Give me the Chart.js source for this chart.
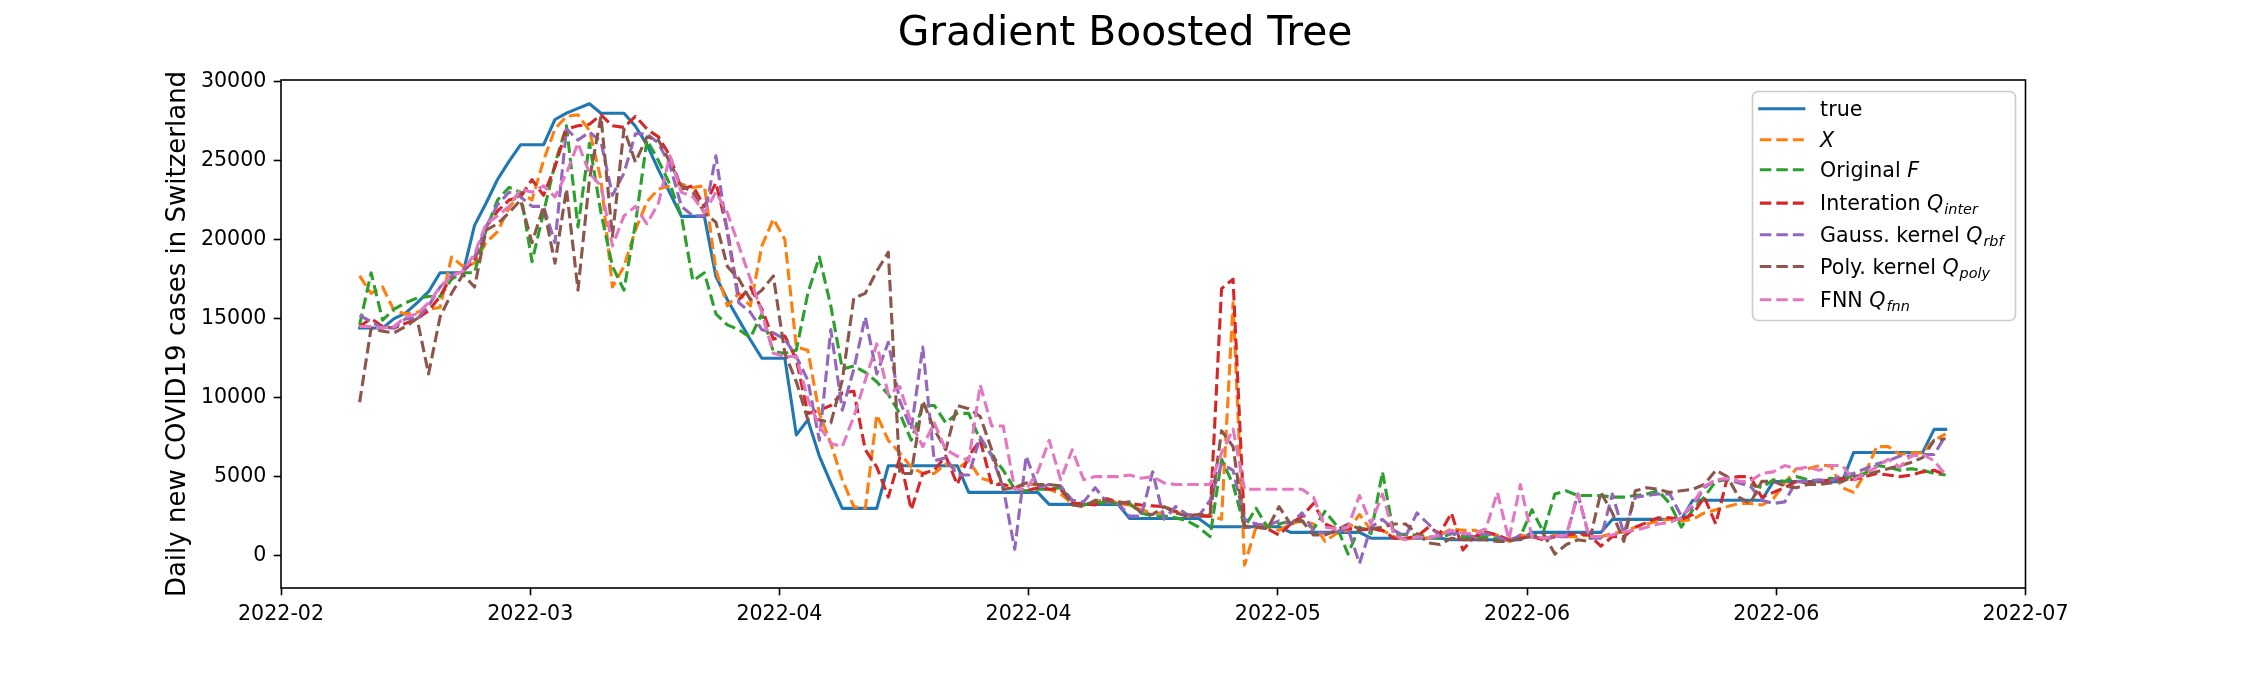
<!DOCTYPE html>
<html>
<head>
<meta charset="utf-8">
<title>Gradient Boosted Tree</title>
<script src="https://cdn.jsdelivr.net/npm/chart.js@4.4.1/dist/chart.umd.min.js"></script>
<style>
  html, body { margin: 0; padding: 0; background: #fff; }
  #wrap { width: 2250px; height: 675px; position: relative; }
</style>
</head>
<body>
<div id="wrap"><canvas id="gbtChart"></canvas></div>
<script>
  // Axis labels and series names
  const tickLabels = ['2022-02', '2022-03', '2022-04', '2022-04', '2022-05', '2022-06', '2022-06', '2022-07'];
  const yTicks = [0, 5000, 10000, 15000, 20000, 25000, 30000];
  const seriesNames = ['true', '$X$', 'Original $F$', 'Interation $Q_{inter}$', 'Gauss. kernel $Q_{rbf}$', 'Poly. kernel $Q_{poly}$', 'FNN $Q_{fnn}$'];
  const seriesColors = ['#1f77b4', '#ff7f0e', '#2ca02c', '#d62728', '#9467bd', '#8c564b', '#e377c2'];

  // Daily values (one per day)
  const trueCases = [
    14400, 14400, 14400, 15000, 15350, 16000, 16700, 17900, 17900, 17900,
    20900, 22300, 23800, 24950, 26000, 26000, 26000, 27600, 28000, 28300,
    28600, 28000, 28000, 28000, 27170, 26010, 24430, 22950, 21470, 21470,
    21470, 17670, 16190, 14920, 13660, 12490, 12490, 12490, 7640, 8590,
    6300, 4600, 2990, 2990, 2990, 2990,
    5690, 5690, 5690, 5690, 5690, 5690, 5690,
    4000, 4000, 4000, 4000, 4000, 4000, 4000,
    3240, 3240, 3240, 3240, 3240, 3240, 3240,
    2350, 2350, 2350, 2350, 2350, 2350, 2350,
    1830, 1830, 1830, 1830, 1830, 1830, 1830,
    1470, 1470, 1470, 1470, 1470, 1470, 1470,
    1100, 1100, 1100, 1100, 1100, 1100, 1100,
    1000, 1000, 1000, 1000, 1000, 1000, 1000,
    1470, 1470, 1470, 1470, 1470, 1470, 1470,
    2290, 2290, 2290, 2290, 2290, 2290, 2290,
    3500, 3500, 3500, 3500, 3500, 3500, 3500,
    4680, 4680, 4680, 4680, 4680, 4680, 4680,
    6530, 6530, 6530, 6530, 6530, 6530, 6530,
    7990, 7990
  ];
  const predX = [
    17700, 16600, 17000, 15500, 15300, 15400, 15600, 15700, 18900, 18300,
    18500, 19800, 20500, 22000, 23000, 22500, 25000, 27000, 27800, 27900,
    26900, 23800, 17000, 18300, 20600, 22400, 23200, 23400, 23500, 23300,
    23400, 18100, 15800, 16600, 15800, 19600, 21300, 20000, 13200, 13000,
    9000, 7100, 4800, 3100, 3000, 8900, 7300, 6500, 5600, 5200,
    5200, 5800, 5500, 6000, 4900, 4700, 4500, 4300, 4500, 4500,
    4200, 3900, 3300, 3200, 3400, 3600, 3300, 3200, 2900, 2700,
    2700, 2800, 2500, 2600, 2500, 2300, 16000, -600, 1800, 1900,
    1600, 2000, 2200, 2000, 900, 1400, 1600, 2600, 1600, 1600,
    1200, 1000, 1200, 1100, 1300, 1700, 1600, 1600, 1400, 1300,
    900, 1300, 1200, 1100, 1300, 1200, 1200, 1300, 1200, 1400,
    1500, 1800, 2000, 2200, 2300, 2200, 2300, 2700, 2900, 3100,
    3300, 3300, 3200, 3600, 4600, 5500, 5500, 5700, 5700, 4300,
    4000, 5200, 6900, 6900, 6400, 6500, 6500, 7300, 7700
  ];
  const predF = [
    14600, 17900, 14900, 15600, 16000, 16300, 16400, 16400, 17500, 17900,
    17900, 20600, 22500, 23300, 23000, 18600, 21700, 24800, 27200, 20800,
    26100, 21700, 18300, 16800, 21000, 26300, 25000, 23500, 21500, 17400,
    17900, 15300, 14600, 14300, 13800, 15300, 12900, 12800, 13000, 16600,
    18900, 15800, 11800, 12000, 11600, 11000, 10200, 9000, 7300, 9500,
    9500, 8400, 9000, 9000, 7300, 6400, 5400, 4200, 4100, 4200,
    4200, 4300, 3500, 3200, 3400, 3300, 3300, 3300, 2700, 2500,
    2500, 2400, 2200, 1800, 1200, 6100, 4500, 1800, 3000, 1800,
    2000, 2200, 2200, 1700, 2800, 1900, 100, 1800, 1400, 5300,
    1300, 1350, 1300, 1200, 1100, 1400, 1200, 1100, 1200, 1100,
    1000, 1200, 2900, 1500, 3900, 4100, 3800, 3800, 3800, 3700,
    3700, 3800, 3900, 4100, 3300, 1800, 2900, 3700, 4700, 4800,
    4700, 4500, 4300, 4800, 4700, 5000, 4800, 4700, 4900, 4800,
    5100, 5200, 5700, 5600, 5400, 5500, 5400, 5200, 5100
  ];
  const predInter = [
    14500, 15000, 14500, 14400, 14700, 15000, 15500, 16400, 17700, 18000,
    18700, 20800, 21800, 22500, 22700, 23800, 22800, 24600, 27000, 27200,
    27300, 27900, 27200, 27100, 27800, 27000, 26500, 25300, 23200, 23400,
    22100, 23600, 20600, 16200, 17000, 15600, 13700, 13900, 12400, 9000,
    9200, 9500, 10300, 10400, 6700, 5600, 3700, 6200, 2900, 5200,
    5400, 6300, 4500, 6300, 7300, 4500, 4500, 4300, 4100, 4300,
    4200, 4200, 3300, 3300, 3200, 3600, 3400, 3300, 3200, 3150,
    3100, 2800, 2600, 2500, 2500, 16900, 17500, 1800, 2000, 1700,
    1300, 2000, 2500, 3300, 2000, 1700, 1700, 1600, 1700, 1600,
    1100, 1100, 1200, 1800, 1400, 2700, 350, 1200, 1500, 1300,
    1000, 1100, 1200, 1000, 1200, 1300, 1400, 1300, 600, 1200,
    1200, 1800, 2100, 2400, 2400, 2300, 2600, 3700, 2000, 4900,
    5000, 5000, 3700, 4000, 4300, 4700, 4600, 4700, 4800, 4900,
    4800, 5000, 5200, 5100, 5000, 5100, 5300, 5400, 5100
  ];
  const predRbf = [
    15200, 14800, 14400, 14400, 15000, 15000, 15800, 17000, 17700, 18100,
    18900, 20800, 22200, 23000, 22700, 22100, 22100, 19800, 27000, 26300,
    26800, 26200, 22800, 24200, 26700, 26700, 26100, 24700, 22100, 21500,
    21500, 25300, 20400, 16000, 15400, 14300, 14100, 13700, 12600, 11100,
    7300, 14300, 9200, 11800, 15100, 11500, 13500, 9800, 8000, 13200,
    6000, 6200, 5100, 5100, 7500, 6300, 4300, 400, 6300, 4300,
    4500, 4400, 3500, 3400, 4300, 3400, 3300, 2500, 2500, 5300,
    2300, 3100, 2600, 2500, 3500, 5800, 5400, 2300, 2000, 1900,
    2200, 2000, 2700, 1600, 1400, 1500, 1700, -500, 1800, 2300,
    1600, 1200, 2700, 2000, 1200, 1400, 1400, 1200, 1400, 1200,
    900, 1300, 1200, 1100, 1200, 1200, 3900, 1100, 1100, 3900,
    1400, 3700, 3800, 3900, 3900, 2500, 3100, 4300, 4800, 4800,
    4600, 4400, 3500, 3300, 3400, 4700, 4700, 4800, 4700, 5100,
    5200, 5500, 5800, 6000, 6300, 6300, 6400, 6400, 7600
  ];
  const predPoly = [
    9700, 14400, 14200, 14100, 14500, 15000, 11500, 15100, 16600, 17800,
    17000, 20600, 21000, 21700, 22500, 19800, 22100, 18500, 23200, 16800,
    23800, 27800, 20200, 27000, 24900, 26500, 26300, 24900, 23400, 23000,
    21700, 21100, 18300, 17500, 16200, 16800, 17700, 12800, 11000, 8600,
    8600, 8400, 11100, 16300, 16600, 18000, 19200, 5200, 5200, 9800,
    8000, 6700, 9500, 9300, 8800, 6700, 4200, 4300, 4600, 4500,
    4500, 4400, 3200, 3100, 3500, 3500, 3300, 3400, 2700, 2600,
    3100, 2700, 2500, 2600, 2600, 7900, 6900, 1800, 1800, 1700,
    3100, 2000, 2200, 1300, 1300, 1600, 2000, 1700, 1700, 1800,
    2000, 2000, 1400, 800, 700, 1100, 1000, 1000, 1000, 900,
    900, 1100, 1200, 1400, 100, 700, 1000, 900, 4000, 2700,
    900, 4100, 4300, 4200, 4000, 4100, 4200, 4500, 5400, 5000,
    3700, 3300, 4700, 4700, 4400, 4300, 4500, 4500, 4600, 4700,
    5000, 5100, 5300, 5500, 5700, 5900, 6200, 7300, 7400
  ];
  const predFnn = [
    14500, 14500, 14400, 14500, 15100, 15300, 16000, 17000, 17700, 18000,
    19100, 21000, 21500, 22100, 23200, 23000, 23400, 22700, 24200, 26100,
    24200, 23400, 19600, 21500, 22100, 21000, 22300, 25300, 23000, 22700,
    21700, 23000, 21700, 19600, 17500, 15400, 12800, 12600, 12600, 9900,
    8200, 7100, 6900, 8800, 11100, 13400, 10200, 10700, 8400, 6900,
    8400, 6700, 6300, 6000, 10800, 8200, 8200, 4200, 4200, 5300,
    7300, 4800, 6700, 4800, 5000, 5000, 5000, 5100, 4900, 5000,
    4600, 4500, 4500, 4500, 4500, 6500, 8000, 4200, 4200, 4200,
    4200, 4200, 4200, 3700, 1800, 1700, 1800, 3800, 2000, 3900,
    1300, 1000, 1200, 1100, 1300, 1600, 1400, 1400, 1700, 4000,
    1000, 4500, 1200, 1100, 1200, 1300, 3900, 1200, 1200, 1300,
    1500, 1600, 1800, 2000, 2100, 2400, 3300, 4400, 4800, 4900,
    4700, 4700, 5200, 5300, 5700, 5500, 5600, 5400, 5700, 5700,
    4800, 5200, 5600, 6100, 5600, 6300, 6400, 6000, 5100
  ];

  const allSeries = [trueCases, predX, predF, predInter, predRbf, predPoly, predFnn];
  const days = trueCases.map((_, i) => i); // day index, first prediction = 0

  // axis limits (days / cases), as in the figure
  const xMin = -6.84;
  const xMax = 144.95;
  const yMin = -2050;
  const yMax = 30100;

  const FONT = '"DejaVu Sans", sans-serif';
  const TICK_PX = 20.6;
  Chart.defaults.font.family = FONT;
  Chart.defaults.color = '#000';

  // Draws a label like "Interation $Q_{inter}$" with italic maths and subscript
  function drawMathLabel(ctx, text, x, y) {
    text.split('$').forEach((part, j) => {
      if (!part) return;
      if (j % 2 === 0) {
        ctx.font = TICK_PX + 'px ' + FONT;
        ctx.fillText(part, x, y);
        x += ctx.measureText(part).width;
      } else {
        const m = part.match(/^([^_]+)(?:_\{?([^}]*)\}?)?$/);
        ctx.font = 'italic ' + TICK_PX + 'px ' + FONT;
        ctx.fillText(m[1], x, y);
        x += ctx.measureText(m[1]).width;
        if (m[2]) {
          ctx.font = 'italic ' + (TICK_PX * 0.7) + 'px ' + FONT;
          ctx.fillText(m[2], x + 1, y + 4);
          x += ctx.measureText(m[2]).width + 1;
        }
      }
    });
  }

  // Box round the plot area
  const framePlugin = {
    id: 'frame',
    afterDatasetsDraw(chart) {
      const { ctx, chartArea: a } = chart;
      ctx.save();
      ctx.strokeStyle = '#000';
      ctx.lineWidth = 1.6;
      ctx.strokeRect(a.left, a.top, a.right - a.left, a.bottom - a.top);
      ctx.restore();
    }
  };

  // Figure title, centred on the whole canvas
  const suptitlePlugin = {
    id: 'suptitle',
    afterDraw(chart) {
      const ctx = chart.ctx;
      ctx.save();
      ctx.font = '40.8px ' + FONT;
      ctx.fillStyle = '#000';
      ctx.textAlign = 'center';
      ctx.textBaseline = 'alphabetic';
      ctx.fillText('Gradient Boosted Tree', chart.width / 2, 45);
      ctx.restore();
    }
  };

  // Legend in the upper right, matplotlib look
  const rowOffsets = [17.3, 48.3, 78.3, 111.6, 143.3, 175, 208.3];
  const legendPlugin = {
    id: 'mplLegend',
    afterDraw(chart) {
      const { ctx, chartArea: a } = chart;
      const w = 263, h = 229;
      const left = a.right - 10 - w;
      const top = a.top + 11.5;
      ctx.save();
      ctx.beginPath();
      ctx.roundRect(left, top, w, h, 6);
      ctx.fillStyle = 'rgba(255,255,255,0.8)';
      ctx.fill();
      ctx.strokeStyle = '#cccccc';
      ctx.lineWidth = 1.6;
      ctx.stroke();

      chart.data.datasets.forEach((ds, k) => {
        const y = top + rowOffsets[k];
        ctx.beginPath();
        ctx.strokeStyle = ds.borderColor;
        ctx.lineWidth = ds.borderWidth;
        ctx.lineCap = ds.borderCapStyle;
        ctx.setLineDash(ds.borderDash);
        ctx.moveTo(left + 7.3, y);
        ctx.lineTo(left + 51.3, y);
        ctx.stroke();
        ctx.setLineDash([]);
        ctx.fillStyle = '#000';
        ctx.textAlign = 'left';
        ctx.textBaseline = 'alphabetic';
        drawMathLabel(ctx, ds.label, left + 67.6, y + 7);
      });
      ctx.restore();
    }
  };

  function renderChart() {
    const ctx = document.getElementById('gbtChart').getContext('2d');
    const datasets = allSeries.map((vals, k) => ({
      label: seriesNames[k],
      data: vals,
      borderColor: seriesColors[k],
      backgroundColor: seriesColors[k],
      borderWidth: 3.1,
      borderDash: k === 0 ? [] : [11.5, 5],
      borderCapStyle: k === 0 ? 'square' : 'butt',
      borderJoinStyle: 'round',
      pointRadius: 0,
      tension: 0,
      fill: false,
      order: allSeries.length - 1 - k // later series on top
    }));

    const tickStyle = {
      drawOnChartArea: false,
      drawTicks: true,
      tickLength: 7.3,
      tickWidth: 1.6,
      tickColor: '#000'
    };

    new Chart(ctx, {
      type: 'line',
      data: { labels: days, datasets: datasets },
      options: {
        responsive: true,
        maintainAspectRatio: false,
        devicePixelRatio: 1,
        animation: false,
        layout: { padding: { left: 150, right: 224.5, top: 80, bottom: 0 } },
        plugins: {
          legend: { display: false },
          tooltip: { enabled: false }
        },
        scales: {
          x: {
            type: 'linear',
            min: xMin,
            max: xMax,
            afterBuildTicks(scale) {
              const step = (xMax - xMin) / (tickLabels.length - 1);
              scale.ticks = tickLabels.map((_, k) => ({ value: xMin + k * step }));
            },
            afterFit(scale) { scale.height = 87; },
            ticks: {
              autoSkip: false,
              maxRotation: 0,
              padding: 7.2,
              font: { size: TICK_PX },
              color: '#000',
              callback: (value, index) => tickLabels[index]
            },
            grid: tickStyle,
            border: { display: false }
          },
          y: {
            type: 'linear',
            min: yMin,
            max: yMax,
            afterBuildTicks(scale) {
              scale.ticks = yTicks.map(v => ({ value: v }));
            },
            afterFit(scale) { scale.width = 131; },
            ticks: {
              padding: 7.3,
              font: { size: TICK_PX },
              color: '#000',
              callback: value => String(value)
            },
            grid: tickStyle,
            border: { display: false },
            title: {
              display: true,
              text: 'Daily new COVID19 cases in Switzerland',
              font: { size: 26 },
              color: '#000',
              padding: { top: 12.4, bottom: 0 }
            }
          }
        }
      },
      plugins: [framePlugin, legendPlugin, suptitlePlugin]
    });
  }

  renderChart();
</script>
</body>
</html>
